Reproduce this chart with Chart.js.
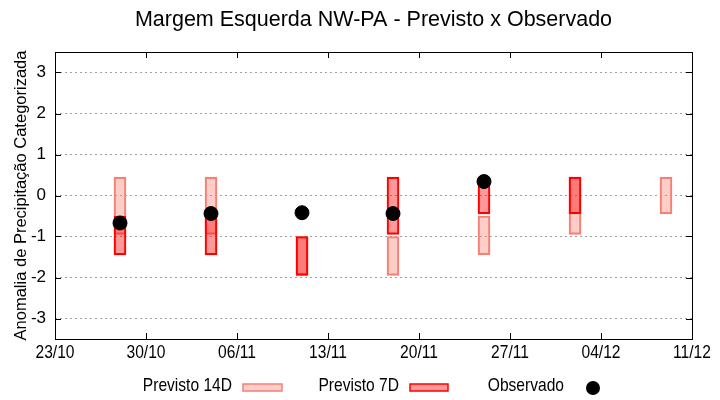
<!DOCTYPE html>
<html>
<head>
<meta charset="utf-8">
<script src="https://cdn.jsdelivr.net/npm/chart.js@4.4.0/dist/chart.umd.min.js"></script>
<style>
  html, body { margin: 0; padding: 0; background: #fff; }
  #wrap { width: 720px; height: 400px; }
</style>
</head>
<body>
<div id="wrap"><canvas id="rainChart"></canvas></div>
<script>
// days counted from 23/10
var xTickDays = [0, 7, 14, 21, 28, 35, 42, 49];
var xTickLabels = ["23/10", "30/10", "06/11", "13/11", "20/11", "27/11", "04/12", "11/12"];
var yTicks = [-3, -2, -1, 0, 1, 2, 3];

var forecastDays = [5, 12, 19, 26, 33, 40, 47];
// [low, high] of each forecast box
var prev14D = [[-0.95, 0.45], [-0.95, 0.45], [-1.95, -1.0], [-1.95, -1.0], [-1.45, -0.5], [-0.95, 0.45], [-0.45, 0.45]];
var prev7D = [[-1.45, -0.5], [-1.45, -0.5], [-1.95, -1.0], [-0.95, 0.45], [-0.45, 0.45], [-0.45, 0.45], null];

var obsDays = [5, 12, 19, 26, 33];
var observado = [-0.67, -0.44, -0.42, -0.44, 0.34];

var c14Fill = "rgba(250,128,114,0.39)";
var c14Line = "rgb(245,128,118)";
var c7Fill = "rgba(255,0,0,0.4)";
var c7Line = "#ff0000";
var sans = "'Liberation Sans', Arial, sans-serif";

function toPoints(days, vals) {
    var out = [];
    days.forEach((d, i) => {
        if (vals[i] !== null) out.push({ x: d, y: vals[i] });
    });
    return out;
}

// condensed text: squeeze Liberation Sans horizontally
function narrowText(ctx, txt, x, y, align) {
    var sx = 0.82;
    ctx.save();
    ctx.translate(x, y);
    ctx.scale(sx, 1);
    ctx.textAlign = align;
    ctx.fillText(txt, 0, 0);
    ctx.restore();
}

// title, frame, inner ticks, x labels and the legend
var framePlugin = {
    id: "frame",
    afterDatasetsDraw(chart) {
        var ctx = chart.ctx;
        var a = chart.chartArea;
        var xs = chart.scales.x, ys = chart.scales.y;
        ctx.save();
        ctx.strokeStyle = "#000";
        ctx.lineWidth = 1;
        ctx.beginPath();
        xTickDays.forEach(d => {
            var px = Math.round(xs.getPixelForValue(d)) + 0.5;
            ctx.moveTo(px, a.bottom); ctx.lineTo(px, a.bottom - 6);
            ctx.moveTo(px, a.top); ctx.lineTo(px, a.top + 6);
        });
        yTicks.forEach(v => {
            var py = Math.round(ys.getPixelForValue(v)) + 0.5;
            ctx.moveTo(a.left, py); ctx.lineTo(a.left + 6, py);
            ctx.moveTo(a.right, py); ctx.lineTo(a.right - 6, py);
        });
        ctx.stroke();
        ctx.strokeRect(Math.round(a.left) + 0.5, Math.round(a.top) + 0.5,
            Math.round(a.right - a.left), Math.round(a.bottom - a.top));
        ctx.restore();
    },
    afterDraw(chart) {
        var ctx = chart.ctx;
        var a = chart.chartArea;
        var xs = chart.scales.x;
        ctx.save();
        ctx.fillStyle = "#000";
        ctx.textBaseline = "middle";
        ctx.font = "21.5px " + sans;
        ctx.textAlign = "center";
        ctx.fillText("Margem Esquerda NW-PA - Previsto x Observado", (a.left + a.right) / 2, 20);

        ctx.font = "19px " + sans;
        xTickDays.forEach((d, i) => {
            narrowText(ctx, xTickLabels[i], xs.getPixelForValue(d), 353, "center");
        });

        var ly = 386;
        narrowText(ctx, "Previsto 14D", 232, ly, "right");
        narrowText(ctx, "Previsto 7D", 399, ly, "right");
        narrowText(ctx, "Observado", 564, ly, "right");
        ctx.lineWidth = 1.5;
        ctx.fillStyle = c14Fill; ctx.strokeStyle = c14Line;
        ctx.fillRect(243, 384, 39, 7); ctx.strokeRect(243, 384, 39, 7);
        ctx.fillStyle = c7Fill; ctx.strokeStyle = c7Line;
        ctx.fillRect(410, 384, 38, 7); ctx.strokeRect(410, 384, 38, 7);
        ctx.fillStyle = "#000";
        ctx.beginPath(); ctx.arc(593, 388, 7, 0, Math.PI * 2); ctx.fill();
        ctx.restore();
    }
};

const config = {
    type: 'bar',
    data: {
        datasets: [
            {
                type: 'scatter',
                label: 'Observado',
                data: toPoints(obsDays, observado),
                backgroundColor: '#000',
                borderColor: '#000',
                pointRadius: 7,
                pointHoverRadius: 7,
                order: 0
            },
            {
                label: 'Previsto 7D',
                data: toPoints(forecastDays, prev7D),
                backgroundColor: c7Fill,
                borderColor: c7Line,
                borderWidth: 1.5,
                borderSkipped: false,
                barThickness: 12,
                order: 1
            },
            {
                label: 'Previsto 14D',
                data: toPoints(forecastDays, prev14D),
                backgroundColor: c14Fill,
                borderColor: c14Line,
                borderWidth: 1.5,
                borderSkipped: false,
                barThickness: 12,
                order: 2
            }
        ]
    },
    options: {
        responsive: true,
        maintainAspectRatio: false,
        animation: false,
        grouped: false,
        layout: {
            padding: { left: 0, right: 28, top: 52, bottom: 36 }
        },
        plugins: {
            legend: { display: false },
            tooltip: { enabled: false },
            title: { display: false }
        },
        scales: {
            x: {
                type: 'linear',
                min: 0,
                max: 49,
                offset: false,
                afterBuildTicks: s => { s.ticks = xTickDays.map(v => ({ value: v })); },
                afterFit: s => { s.height = 25; },
                grid: { display: false, drawTicks: false, offset: false },
                border: { display: false },
                ticks: { display: false }
            },
            y: {
                min: -3.5,
                max: 3.5,
                afterBuildTicks: s => { s.ticks = yTicks.map(v => ({ value: v })); },
                afterFit: s => { s.width = 55; },
                grid: { color: '#a0a0a0', lineWidth: 1, drawTicks: false },
                border: { display: false, dash: [2, 3] },
                ticks: {
                    color: '#000',
                    padding: 9,
                    font: { family: sans, size: 17 }
                },
                title: {
                    display: true,
                    text: 'Anomalia de Precipitação Categorizada',
                    color: '#000',
                    font: { family: sans, size: 16.5 },
                    padding: { top: 12, bottom: 0 }
                }
            }
        }
    },
    plugins: [framePlugin]
};

new Chart(document.getElementById("rainChart"), config);
</script>
</body>
</html>
